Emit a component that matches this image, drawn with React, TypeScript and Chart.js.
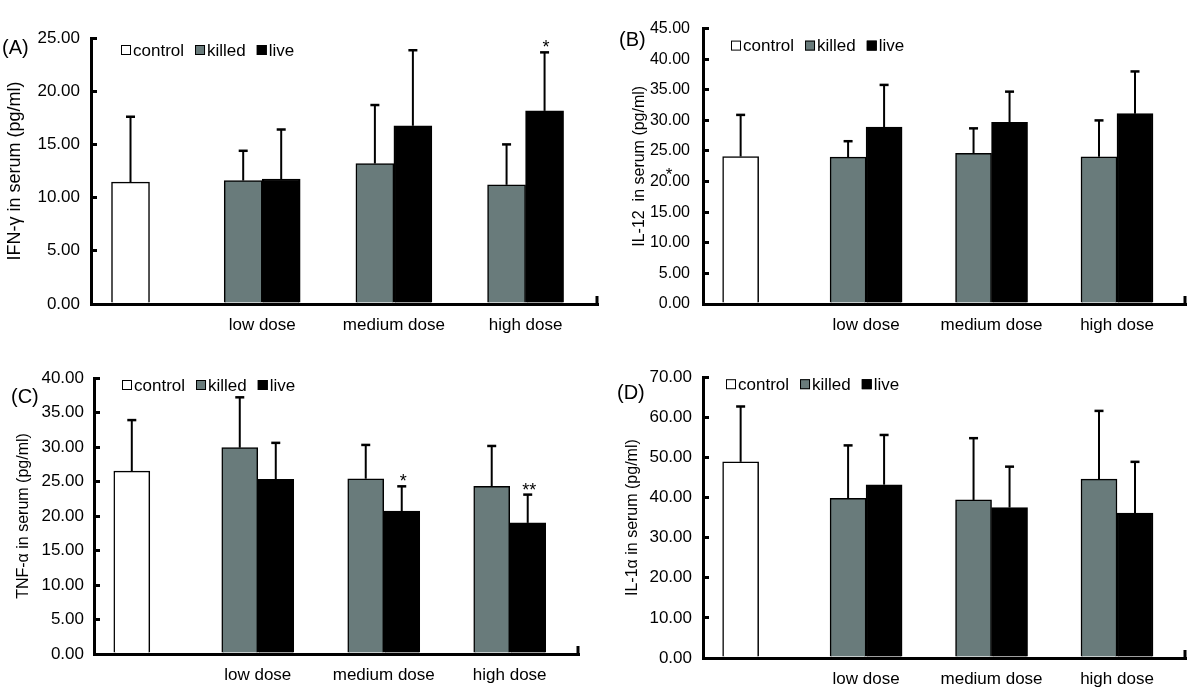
import React, { useEffect, useRef } from 'react';
import { Chart, registerables } from 'chart.js';

Chart.register(...registerables);

const FONT = '"Liberation Sans", Arial, Helvetica, sans-serif';

// ---------- shared labels ----------
const xTickLabels = ['', 'low dose', 'medium dose', 'high dose'];
const seriesNames = ['control', 'killed', 'live'];
const seriesFills = ['#ffffff', '#697b7b', '#000000'];

// ---------- (A) IFN-γ ----------
const ifnControl = [11.45, null, null, null];
const ifnControlSD = [6.15, null, null, null];
const ifnKilled = [null, 11.6, 13.2, 11.2];
const ifnKilledSD = [null, 2.8, 5.5, 3.8];
const ifnLive = [null, 11.75, 16.75, 18.15];
const ifnLiveSD = [null, 4.65, 7.1, 5.5];
const ifnLiveSig = ['', '', '', '*'];

// ---------- (B) IL-12 ----------
const il12Control = [24.1, null, null, null];
const il12ControlSD = [6.8, null, null, null];
const il12Killed = [null, 24.0, 24.6, 24.05];
const il12KilledSD = [null, 2.6, 4.1, 5.95];
const il12Live = [null, 28.9, 29.7, 31.1];
const il12LiveSD = [null, 6.9, 5.0, 6.9];
const il12LiveSig = ['', '', '', ''];

// ---------- (C) TNF-α ----------
const tnfControl = [26.5, null, null, null];
const tnfControlSD = [7.4, null, null, null];
const tnfKilled = [null, 29.9, 25.4, 24.3];
const tnfKilledSD = [null, 7.3, 4.9, 5.85];
const tnfLive = [null, 25.3, 20.7, 19.0];
const tnfLiveSD = [null, 5.3, 3.6, 4.1];
const tnfLiveSig = ['', '', '*', '**'];

// ---------- (D) IL-1α ----------
const il1Control = [48.9, null, null, null];
const il1ControlSD = [13.8, null, null, null];
const il1Killed = [null, 39.8, 39.4, 44.6];
const il1KilledSD = [null, 13.2, 15.4, 17.0];
const il1Live = [null, 43.2, 37.5, 36.1];
const il1LiveSD = [null, 12.4, 10.2, 12.8];
const il1LiveSig = ['', '', '', ''];

type Num = number | null;
type Panel = {
  tag: string;
  yTitle: string;
  yMax: number;
  yStep: number;
  control: Num[];
  controlSD: Num[];
  killed: Num[];
  killedSD: Num[];
  live: Num[];
  liveSD: Num[];
  liveSig: string[];
  stray?: { text: string; value: number };
  // layout only
  box: { left: number; top: number; w: number; h: number };
  area: { left: number; top: number; padRight: number; xh: number };
  tagPos: { x: number; y: number };
  legend: { dx: number; dy: number };
  titleSize: number;
  titlePad: number;
  tickGap: number;
  tickSize: number;
  barW: number;
};

const panels: Panel[] = [
  {
    tag: '(A)', yTitle: 'IFN-γ in serum (pg/ml)', yMax: 25, yStep: 5,
    control: ifnControl, controlSD: ifnControlSD, killed: ifnKilled, killedSD: ifnKilledSD,
    live: ifnLive, liveSD: ifnLiveSD, liveSig: ifnLiveSig,
    box: { left: 0, top: 0, w: 600, h: 344 },
    area: { left: 91, top: 38, padRight: 2, xh: 40 },
    tagPos: { x: 2, y: 48 }, legend: { dx: 30, dy: 12 },
    titleSize: 18, titlePad: 4, tickGap: 17, tickSize: 17, barW: 38,
  },
  {
    tag: '(B)', yTitle: 'IL-12  in serum (pg/ml)', yMax: 45, yStep: 5,
    control: il12Control, controlSD: il12ControlSD, killed: il12Killed, killedSD: il12KilledSD,
    live: il12Live, liveSD: il12LiveSD, liveSig: il12LiveSig,
    stray: { text: '*', value: 20 },
    box: { left: 600, top: 0, w: 600, h: 344 },
    area: { left: 103, top: 23, padRight: 14, xh: 40 },
    tagPos: { x: 19, y: 40 }, legend: { dx: 28, dy: 17 },
    titleSize: 16, titlePad: 30, tickGap: 19, tickSize: 16, barW: 36,
  },
  {
    tag: '(C)', yTitle: 'TNF-α in serum (pg/ml)', yMax: 40, yStep: 5,
    control: tnfControl, controlSD: tnfControlSD, killed: tnfKilled, killedSD: tnfKilledSD,
    live: tnfLive, liveSD: tnfLiveSD, liveSig: tnfLiveSig,
    box: { left: 0, top: 350, w: 600, h: 344 },
    area: { left: 94, top: 28, padRight: 21, xh: 40 },
    tagPos: { x: 11, y: 47 }, legend: { dx: 28, dy: 7 },
    titleSize: 16, titlePad: 14, tickGap: 16, tickSize: 17, barW: 36,
  },
  {
    tag: '(D)', yTitle: 'IL-1α in serum (pg/ml)', yMax: 70, yStep: 10,
    control: il1Control, controlSD: il1ControlSD, killed: il1Killed, killedSD: il1KilledSD,
    live: il1Live, liveSD: il1LiveSD, liveSig: il1LiveSig,
    box: { left: 600, top: 350, w: 600, h: 348 },
    area: { left: 103, top: 25, padRight: 14, xh: 40 },
    tagPos: { x: 17, y: 43 }, legend: { dx: 23, dy: 7 },
    titleSize: 16, titlePad: 23, tickGap: 17, tickSize: 17, barW: 36,
  },
];

const X_MIN = -0.3;
const X_MAX = 3.55;

const toXY = (arr: Num[]) => arr.map((v, i) => ({ x: i, y: v }));

const overlayPlugin = {
  id: 'overlay',
  afterDraw(chart: any, _args: any, opts: any) {
    const p: Panel = opts.panel;
    const ctx = chart.ctx as CanvasRenderingContext2D;
    const yScale = chart.scales.y;
    const ca = chart.chartArea;
    const vals = [p.control, p.killed, p.live];
    const sds = [p.controlSD, p.killedSD, p.liveSD];
    ctx.save();
    // error bars + significance marks
    chart.data.datasets.forEach((_ds: any, di: number) => {
      const meta = chart.getDatasetMeta(di);
      meta.data.forEach((el: any, i: number) => {
        const v = vals[di][i];
        const sd = sds[di][i];
        if (v == null || sd == null) return;
        const top = yScale.getPixelForValue(v + sd);
        ctx.strokeStyle = '#000';
        ctx.lineWidth = 2;
        ctx.beginPath();
        ctx.moveTo(el.x, el.y);
        ctx.lineTo(el.x, top);
        ctx.stroke();
        ctx.lineWidth = 2.5;
        ctx.beginPath();
        ctx.moveTo(el.x - 4.5, top);
        ctx.lineTo(el.x + 4.5, top);
        ctx.stroke();
        const sig = di === 2 ? p.liveSig[i] : '';
        if (sig) {
          ctx.fillStyle = '#000';
          ctx.font = `18px ${FONT}`;
          ctx.textAlign = 'center';
          ctx.textBaseline = 'alphabetic';
          ctx.fillText(sig, el.x + 1.5, top + 1);
        }
      });
    });
    // small mark at the right end of the x axis
    ctx.strokeStyle = '#000';
    ctx.lineWidth = 3;
    ctx.beginPath();
    ctx.moveTo(ca.right - 1, ca.bottom);
    ctx.lineTo(ca.right - 1, ca.bottom - 8);
    ctx.stroke();
    // legend
    let x = ca.left + p.legend.dx;
    const cy = ca.top + p.legend.dy;
    ctx.font = `17px ${FONT}`;
    ctx.textAlign = 'left';
    ctx.textBaseline = 'middle';
    seriesNames.forEach((name, k) => {
      ctx.fillStyle = seriesFills[k];
      ctx.fillRect(x, cy - 5, 10, 10);
      ctx.lineWidth = 1;
      ctx.strokeStyle = '#000';
      ctx.strokeRect(x + 0.5, cy - 4.5, 9, 9);
      ctx.fillStyle = '#000';
      ctx.fillText(name, x + 12, cy + 1);
      x += 12 + ctx.measureText(name).width + 11;
    });
    // panel tag
    ctx.font = `20px ${FONT}`;
    ctx.textBaseline = 'middle';
    ctx.fillText(p.tag, p.tagPos.x, p.tagPos.y);
    // stray mark near a tick label
    if (p.stray) {
      ctx.font = `17px ${FONT}`;
      ctx.textAlign = 'center';
      ctx.textBaseline = 'alphabetic';
      ctx.fillText(p.stray.text, ca.left - 34, yScale.getPixelForValue(p.stray.value) - 2);
    }
    ctx.restore();
  },
};

function PanelChart({ p }: { p: Panel }) {
  const ref = useRef<HTMLCanvasElement>(null);
  useEffect(() => {
    const barBase = {
      borderColor: '#000',
      borderWidth: 1.5,
      barThickness: p.barW,
      skipNull: true,
      grouped: true,
    };
    const chart = new Chart(ref.current as HTMLCanvasElement, {
      type: 'bar',
      data: {
        datasets: [
          { ...barBase, label: seriesNames[0], data: toXY(p.control), backgroundColor: seriesFills[0] },
          { ...barBase, label: seriesNames[1], data: toXY(p.killed), backgroundColor: seriesFills[1] },
          { ...barBase, label: seriesNames[2], data: toXY(p.live), backgroundColor: seriesFills[2] },
        ] as any,
      },
      options: {
        responsive: false,
        animation: false,
        devicePixelRatio: 1,
        events: [],
        layout: { padding: { left: 0, top: p.area.top, right: p.area.padRight, bottom: 0 } },
        plugins: {
          legend: { display: false },
          tooltip: { enabled: false },
          overlay: { panel: p },
        } as any,
        scales: {
          x: {
            type: 'linear',
            min: X_MIN,
            max: X_MAX,
            offset: false,
            grid: { display: false, drawTicks: false, offset: false },
            border: { display: true, color: '#000', width: 3 },
            ticks: {
              stepSize: 1,
              includeBounds: false,
              autoSkip: false,
              maxRotation: 0,
              padding: 11,
              color: '#000',
              font: { family: FONT, size: 17 },
              callback: (v: any) => (Number.isInteger(v) ? xTickLabels[v] ?? '' : ''),
            },
            afterFit: (s: any) => {
              s.height = p.area.xh;
            },
          },
          y: {
            type: 'linear',
            min: 0,
            max: p.yMax,
            grid: {
              drawOnChartArea: false,
              drawTicks: true,
              tickLength: -6,
              lineWidth: 3,
              color: '#000',
            },
            border: { display: true, color: '#000', width: 3 },
            ticks: {
              stepSize: p.yStep,
              padding: p.tickGap,
              color: '#000',
              font: { family: FONT, size: p.tickSize },
              callback: (v: any) => Number(v).toFixed(2),
            },
            title: {
              display: true,
              text: p.yTitle,
              color: '#000',
              font: { family: FONT, size: p.titleSize },
              padding: { top: p.titlePad, bottom: 0 },
            },
            afterFit: (s: any) => {
              s.width = p.area.left;
            },
          },
        },
      } as any,
      plugins: [overlayPlugin],
    });
    return () => chart.destroy();
  }, [p]);
  return (
    <canvas
      ref={ref}
      width={p.box.w}
      height={p.box.h}
      style={{ position: 'absolute', left: p.box.left, top: p.box.top, width: p.box.w, height: p.box.h }}
    />
  );
}

export default function App() {
  return (
    <div style={{ position: 'fixed', left: 0, top: 0, width: 1200, height: 699, background: '#fff', overflow: 'hidden' }}>
      {panels.map((p) => (
        <PanelChart key={p.tag} p={p} />
      ))}
    </div>
  );
}
